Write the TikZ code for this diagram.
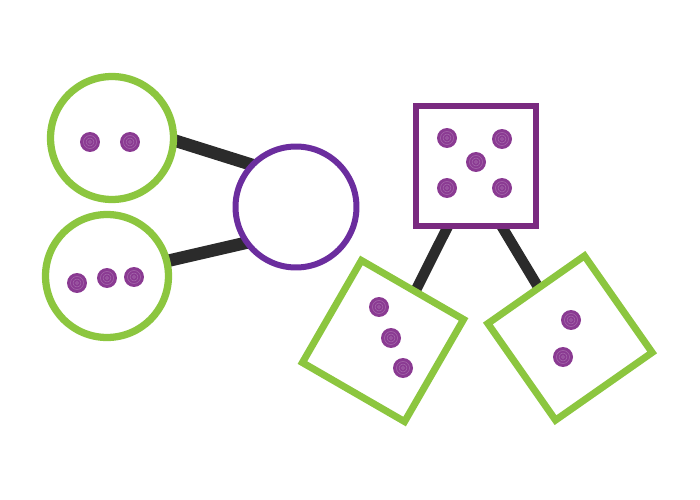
\documentclass[tikz,border=0pt]{standalone}
\usetikzlibrary{backgrounds}
\definecolor{limegreen}{HTML}{8CC63F}
\definecolor{ringviolet}{HTML}{6B2D9E}
\definecolor{sqpurple}{HTML}{7A2A80}
\definecolor{dotpurple}{HTML}{8A3A92}
\definecolor{linkgray}{HTML}{2B2B2B}
\begin{document}
\begin{tikzpicture}[x=0.02cm,y=-0.02cm,
  greenring/.style={circle,draw=limegreen,fill=white,line width=0.145cm,minimum size=2.46cm,inner sep=0pt,outer sep=0pt},
  violetring/.style={circle,draw=ringviolet,fill=white,line width=0.12cm,minimum size=2.42cm,inner sep=0pt,outer sep=0pt},
  purplebox/.style={rectangle,draw=sqpurple,fill=white,line width=0.12cm,minimum size=2.40cm,inner sep=0pt,outer sep=0pt},
  greenbox/.style={rectangle,draw=limegreen,fill=white,line width=0.14cm,minimum size=2.36cm,inner sep=0pt,outer sep=0pt},
  counter/.style={circle,fill=dotpurple,minimum size=0.40cm,inner sep=0pt,outer sep=0pt,
    path picture={\draw[dotpurple!75!white,line width=0.3pt] (path picture bounding box.center) circle (0.13cm) circle (0.08cm) circle (0.03cm);}},
  link/.style={draw=linkgray,line width=0.25cm},
  thinlink/.style={draw=linkgray,line width=0.21cm}]
\useasboundingbox (0,0) rectangle (700,500);

% circles
\node[greenring] (g1) at (112,138) {};
\node[greenring] (g2) at (107,276) {};
\node[violetring] (p1) at (296,207) {};

% squares
\node[purplebox] (s1) at (476,166) {};
\node[greenbox,rotate=-30] (s2) at (383,341) {};
\node[greenbox,rotate=35] (s3) at (570,338) {};

% counters
\node[counter] (a1) at (90,142) {};
\node[counter] (a2) at (130,142) {};
\node[counter] (b1) at (77,283) {};
\node[counter] (b2) at (107,278) {};
\node[counter] (b3) at (134,277) {};
\node[counter] (c1) at (447,138) {};
\node[counter] (c2) at (502,139) {};
\node[counter] (c3) at (476,162) {};
\node[counter] (c4) at (447,188) {};
\node[counter] (c5) at (502,188) {};
\node[counter] (d1) at (379,307) {};
\node[counter] (d2) at (391,338) {};
\node[counter] (d3) at (403,368) {};
\node[counter] (e1) at (571,320) {};
\node[counter] (e2) at (563,357) {};

% connectors
\begin{scope}[on background layer]
  \draw[link] (g1.-2) -- (p1.136);
  \draw[link] (g2.14) -- (p1.-144);
  \draw[thinlink] (s1.-115) -- (s2.87);
  \draw[thinlink] (s1.-67) -- (s3.87);
\end{scope}
\end{tikzpicture}
\end{document}
